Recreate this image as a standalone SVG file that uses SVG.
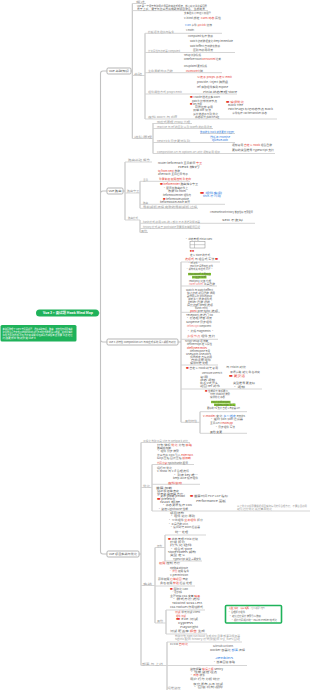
<svg xmlns="http://www.w3.org/2000/svg" width="310" height="691" viewBox="0 0 310 691">
<style>
.t{font-family:"Noto Sans CJK SC","Liberation Sans",sans-serif;font-size:2.2px;fill:#5a5a5a}
.g{fill:#999}
.r{fill:#e5392f}
.b{fill:#2e7be0}
.w{fill:#fff}
.ln{fill:none;stroke:#c2c2c2;stroke-width:1.1}
.ul{fill:none;stroke:#d0d0d0;stroke-width:0.9}
.bx{fill:#fff;stroke:#adadad;stroke-width:0.9}
.hl{fill:#86cf2b}
</style>
<rect width="310" height="691" fill="#fff"/>
<g id="connectors">
<path class="ln" d="M99 313H100.5M100.5 313V73.5Q100.5 71 103 71H107M100.5 313V193.5Q100.5 191 103 191H107M100.5 313V339.5Q100.5 342 103 342H107M100.5 313V551.5Q100.5 554 103 554H107"/>
<path class="ln" d="M131 71H132.3M132.3 3.5V138.5M145 33.3V119M153 123V153.5"/>
<path class="ln" d="M123 191H125M125 162V220M140 181.3V208.3M140 220V232.5"/>
<path class="ln" d="M178 342H181M181 262V422.3M200 411.7V433.3"/>
<path class="ln" d="M139 554H141M141 442.5V665.5M152 464.5V511M155 547.5V623M165 535V561M166 610V634M167 642V690"/>
</g>
<g id="root">
<rect x="36" y="309.5" width="63" height="7" rx="3.5" fill="#1fb25a"/>
<text class="t w" x="43" y="314.3" style="font-size:3.4px;font-weight:bold" textLength="50" lengthAdjust="spacingAndGlyphs">Vue 3 + 面试题 Hook Mind Map</text>
</g>
<g id="note">
<rect x="0.5" y="325" width="76" height="16.5" rx="1.5" fill="#1fb25a"/>
<text class="t w" x="2.5" y="330" textLength="70" lengthAdjust="spacingAndGlyphs">本脑图整理了 Vue 3 常见面试题，涵盖基础知识、路由、新特性与项目实战</text>
<text class="t w" x="2.5" y="332.8" textLength="70" lengthAdjust="spacingAndGlyphs">建议结合官方文档 Composition API 与 响应式原理 深入理解，并动手实践</text>
<text class="t w" x="2.5" y="335.6" textLength="70" lengthAdjust="spacingAndGlyphs">红色为重点内容 蓝色为补充说明 绿色高亮为高频考点 需要 重点 记忆</text>
<text class="t w" x="2.5" y="338.6" textLength="33" lengthAdjust="spacingAndGlyphs">持续更新中 欢迎补充 Vue 3</text>
</g>
<g id="n1">
<rect class="bx" x="107" y="68" width="24" height="6" rx="1.2"/>
<text class="t" x="109" y="71.8" fill="#333" style="font-size:2.5px" textLength="20" lengthAdjust="spacingAndGlyphs">Vue 基础知识</text>
</g>
<g id="n1a"><path class="ul" d="M132.3 3.5H146"/><text class="t g" x="136" y="2.6" textLength="9" lengthAdjust="spacingAndGlyphs">概述</text></g>
<g id="n1b"><path class="ul" d="M132.3 10.6H208"/>
<text class="t" x="137" y="6.5" textLength="70" lengthAdjust="spacingAndGlyphs">Vue 是一套用于构建用户界面的渐进式框架，核心库只关注视图层</text>
<text class="t" x="137" y="9.7" textLength="68" lengthAdjust="spacingAndGlyphs">易于上手，便于与第三方库或既有项目整合，生态完善</text></g>
<g id="n1c"><path class="ul" d="M132.3 75.5H145"/><text class="t g" x="134" y="75" textLength="8" lengthAdjust="spacingAndGlyphs">基础</text></g>
<g id="n1c1"><path class="ul" d="M145 33.3H222"/>
<text class="t g" x="148" y="32.6" textLength="26" lengthAdjust="spacingAndGlyphs">模板语法 插值与指令</text>
<text class="t" x="184" y="14.2" textLength="27" lengthAdjust="spacingAndGlyphs">文本插值 {{ msg }} 双括号</text>
<text class="t" x="184" y="19.2" textLength="37" lengthAdjust="spacingAndGlyphs">v-bind 绑定 <tspan class="r">:class 动态</tspan> 属性</text>
<text class="t" x="185" y="25.8" textLength="27" lengthAdjust="spacingAndGlyphs"><tspan class="b">v-on</tspan> 事件 <tspan class="r">@click</tspan> 修饰</text>
<text class="t" x="186" y="31" textLength="8" lengthAdjust="spacingAndGlyphs">v-model</text></g>
<g id="n1c2"><path class="ul" d="M145 52.5H235"/>
<text class="t g" x="148" y="51.8" textLength="32" lengthAdjust="spacingAndGlyphs">计算属性与侦听器 computed</text>
<text class="t" x="188" y="37" textLength="25" lengthAdjust="spacingAndGlyphs">computed 缓存 依赖</text>
<text class="t" x="190" y="42" textLength="43" lengthAdjust="spacingAndGlyphs">watch 侦听数据变化 deep immediate</text>
<text class="t" x="190" y="47" textLength="30" lengthAdjust="spacingAndGlyphs">watchEffect 自动收集依赖</text>
<text class="t" x="193" y="51.2" textLength="20" lengthAdjust="spacingAndGlyphs">区别与使用场景</text></g>
<g id="n1c3"><path class="ul" d="M145 72.7H222"/>
<text class="t g" x="148" y="72" textLength="25" lengthAdjust="spacingAndGlyphs">生命周期钩子函数</text>
<text class="t" x="184" y="56" textLength="17" lengthAdjust="spacingAndGlyphs">setup 创建阶段</text>
<text class="t" x="184" y="60" textLength="37" lengthAdjust="spacingAndGlyphs">onBeforeMount <tspan class="r">onMounted</tspan> 挂载</text>
<text class="t" x="184" y="66.5" textLength="23" lengthAdjust="spacingAndGlyphs">onUpdated 更新阶段</text>
<text class="t" x="186" y="71.5" textLength="17" lengthAdjust="spacingAndGlyphs"><tspan class="r">onUnmounted</tspan> 卸载</text></g>
<g id="n1c4"><path class="ul" d="M145 94H237"/>
<text class="t g" x="148" y="93.3" textLength="34" lengthAdjust="spacingAndGlyphs">组件通信方式 props emit</text>
<text class="t r" x="197" y="78" textLength="35" lengthAdjust="spacingAndGlyphs">父传子 props 子传父 emit</text>
<text class="t" x="197" y="82.6" textLength="31" lengthAdjust="spacingAndGlyphs">provide / inject 跨层级</text>
<text class="t" x="197" y="87.6" textLength="31" lengthAdjust="spacingAndGlyphs">ref 获取组件实例 expose</text>
<text class="t" x="203" y="93.3" textLength="34" lengthAdjust="spacingAndGlyphs">Pinia 状态管理 store</text></g>
<g id="n1c5"><path class="ul" d="M145 119H277"/>
<text class="t g" x="148" y="118.3" textLength="29" lengthAdjust="spacingAndGlyphs">虚拟 DOM 与 diff</text>
<text class="t" x="190" y="98" textLength="30" lengthAdjust="spacingAndGlyphs"><tspan class="r">■</tspan> VNode 描述真实 DOM</text>
<text class="t" x="192" y="101.5" textLength="25" lengthAdjust="spacingAndGlyphs">patch 比较新旧节点</text>
<text class="t" x="190" y="105" textLength="12" lengthAdjust="spacingAndGlyphs"><tspan class="r">■</tspan> key 作用</text>
<text class="t" x="195" y="108.2" textLength="18" lengthAdjust="spacingAndGlyphs">同层比较 复用</text>
<text class="t" x="193" y="111.4" textLength="18" lengthAdjust="spacingAndGlyphs">双端 diff 算法</text>
<text class="t" x="193" y="114.7" textLength="25" lengthAdjust="spacingAndGlyphs">最长递增子序列 优化</text>
<text class="t" x="195" y="118" textLength="24" lengthAdjust="spacingAndGlyphs">静态提升 patchFlag</text>
<text class="t" x="226" y="102.5" textLength="18" lengthAdjust="spacingAndGlyphs"><tspan class="r">■ 编译优化</tspan></text>
<text class="t" x="228" y="106" textLength="15" lengthAdjust="spacingAndGlyphs">Block Tree</text>
<text class="t" x="228" y="110" textLength="45" lengthAdjust="spacingAndGlyphs">PatchFlags 标记动态节点 Block</text>
<text class="t" x="232" y="113.6" textLength="35" lengthAdjust="spacingAndGlyphs">事件缓存 cacheHandler 静态</text></g>
<g id="n1d"><path class="ul" d="M132.3 138.5H153"/><text class="t g" x="134" y="138" textLength="18" lengthAdjust="spacingAndGlyphs">进阶原理</text></g>
<g id="n1d1"><path class="ul" d="M153 123.5H192"/><text class="t g" x="157" y="122.8" textLength="33" lengthAdjust="spacingAndGlyphs">响应式原理 Proxy 代理</text></g>
<g id="n1d2"><path class="ul" d="M153 128.5H213M200 133.5H235"/>
<text class="t g" x="157" y="127.8" textLength="55" lengthAdjust="spacingAndGlyphs">reactive 与 ref 的区别 以及 toRefs 的使用场景</text>
<text class="t b" x="200" y="132.8" textLength="34" lengthAdjust="spacingAndGlyphs">依赖收集 track 触发更新 trigger</text></g>
<g id="n1d3"><path class="ul" d="M153 142.5H235"/>
<text class="t g" x="157" y="141.8" textLength="33" lengthAdjust="spacingAndGlyphs">nextTick 异步更新队列</text>
<text class="t b" x="210" y="137.6" textLength="20" lengthAdjust="spacingAndGlyphs">微任务 Promise</text>
<text class="t b" x="212" y="140.8" textLength="16" lengthAdjust="spacingAndGlyphs">queueJob</text></g>
<g id="n1d4"><path class="ul" d="M153 153.5H275"/>
<text class="t g" x="157" y="152.8" textLength="63" lengthAdjust="spacingAndGlyphs">Composition API 与 Options API 对比 逻辑复用 组织</text>
<text class="t" x="232" y="146" textLength="40" lengthAdjust="spacingAndGlyphs">逻辑复用 <tspan class="r">自定义 Hook</tspan> 组合函数</text>
<text class="t" x="232" y="151" textLength="42" lengthAdjust="spacingAndGlyphs">更好的类型推导 TypeScript 支持</text></g>
<g id="n2">
<rect class="bx" x="107" y="188" width="16" height="6" rx="1.2"/>
<text class="t" x="108.5" y="191.8" fill="#333" style="font-size:2.5px" textLength="13" lengthAdjust="spacingAndGlyphs">Vue 路由</text>
</g>
<g id="n2a"><path class="ul" d="M125 162H152"/><text class="t g" x="128" y="161.3" textLength="22" lengthAdjust="spacingAndGlyphs">路由基础 概念</text></g>
<g id="n2b"><path class="ul" d="M125 193H140"/><text class="t g" x="127" y="192.4" textLength="12" lengthAdjust="spacingAndGlyphs">路由守卫</text></g>
<g id="n2b1"><path class="ul" d="M140 181.3H190"/>
<text class="t g" x="143" y="180.6" textLength="5" lengthAdjust="spacingAndGlyphs">全局</text>
<text class="t" x="158" y="164" textLength="44" lengthAdjust="spacingAndGlyphs">router.beforeEach 全局前置 <tspan class="r">守卫</tspan></text>
<text class="t" x="178" y="167.5" textLength="22" lengthAdjust="spacingAndGlyphs">next 放行</text>
<text class="t" x="158" y="172" textLength="22" lengthAdjust="spacingAndGlyphs"><tspan class="r">to from next</tspan> 参数</text>
<text class="t" x="158" y="175.3" textLength="30" lengthAdjust="spacingAndGlyphs">afterEach 全局后置钩子</text>
<text class="t r" x="159" y="180.4" textLength="32" lengthAdjust="spacingAndGlyphs">登录鉴权 权限控制 重定向</text></g>
<g id="n2b2"><path class="ul" d="M140 204.3H225"/>
<text class="t g" x="143" y="203.6" textLength="5" lengthAdjust="spacingAndGlyphs">路由</text>
<text class="t" x="160" y="185" textLength="38" lengthAdjust="spacingAndGlyphs"><tspan class="r">■ beforeEnter</tspan> 路由独享守卫</text>
<text class="t" x="163" y="189" textLength="25" lengthAdjust="spacingAndGlyphs">· 配置在路由对象上</text>
<text class="t" x="168" y="192.2" textLength="18" lengthAdjust="spacingAndGlyphs">参数 to from</text>
<text class="t" x="163" y="196" textLength="28" lengthAdjust="spacingAndGlyphs">beforeRouteEnter 组件内</text>
<text class="t" x="163" y="199.8" textLength="26" lengthAdjust="spacingAndGlyphs"><tspan class="r">■</tspan> beforeRouteUpdate</text>
<text class="t" x="160" y="203.4" textLength="30" lengthAdjust="spacingAndGlyphs">beforeRouteLeave 离开</text>
<text class="t b" x="200" y="193.5" textLength="22" lengthAdjust="spacingAndGlyphs"><tspan class="r">■</tspan> 组件实例</text>
<text class="t b" x="203" y="197" textLength="18" lengthAdjust="spacingAndGlyphs">this 不可用</text></g>
<g id="n2b3"><path class="ul" d="M140 208.3H198"/><text class="t g" x="143" y="207.5" textLength="54" lengthAdjust="spacingAndGlyphs">导航解析流程 完整的导航解析 过程</text></g>
<g id="n2c"><path class="ul" d="M125 220H140"/><text class="t g" x="128" y="219.4" textLength="10" lengthAdjust="spacingAndGlyphs">路由模式</text></g>
<g id="n2c1"><path class="ul" d="M140 223.3H255"/>
<text class="t g" x="143" y="222.6" textLength="57" lengthAdjust="spacingAndGlyphs">hash 模式 使用 URL 的 # 部分 不会发送到服务器</text>
<text class="t" x="210" y="212.6" textLength="43" lengthAdjust="spacingAndGlyphs">createWebHashHistory 兼容性好 无需配置</text>
<text class="t" x="222" y="220.6" textLength="21" lengthAdjust="spacingAndGlyphs">SEO 不友好</text></g>
<g id="n2c2"><path class="ul" d="M140 228.5H200"/><text class="t g" x="143" y="227.6" textLength="57" lengthAdjust="spacingAndGlyphs">history 模式 基于 pushState 需要服务端配置回退</text></g>
<g id="n2c3"><path class="ul" d="M140 232.5H148"/><text class="t g" x="141" y="231.8" textLength="6" lengthAdjust="spacingAndGlyphs">其他</text></g>
<g id="n3">
<rect class="bx" x="107" y="339" width="71" height="6" rx="1.2"/>
<text class="t" x="109" y="342.8" fill="#333" style="font-size:2.5px" textLength="67" lengthAdjust="spacingAndGlyphs">Vue 3 新特性 Composition API 与响应式系统 深入解析与对比</text>
</g>
<g id="n3a"><path class="ul" d="M181 262H220"/>
<text class="t" x="185" y="240" textLength="27" lengthAdjust="spacingAndGlyphs">· 状态管理 Pinia Vuex</text>
<rect x="190" y="241.5" width="15" height="6.5" fill="none" stroke="#888" stroke-width="0.5"/>
<path d="M194.5 241.5V248M190 244.7H205" stroke="#888" stroke-width="0.4"/>
<text class="t r" x="190" y="252" textLength="4" lengthAdjust="spacingAndGlyphs">■ ■</text>
<text class="t" x="190" y="256" textLength="20" lengthAdjust="spacingAndGlyphs">定义 store 的方式</text>
<text class="t" x="185" y="260.3" textLength="33" lengthAdjust="spacingAndGlyphs"><tspan class="r">选项式</tspan> 与 组合式 写法 <tspan class="r">■</tspan></text></g>
<g id="n3b"><path class="ul" d="M181 286H217"/>
<text class="t" x="188" y="264" textLength="12" lengthAdjust="spacingAndGlyphs">· ref 对象 ·</text>
<text class="t" x="190" y="266.8" textLength="23" lengthAdjust="spacingAndGlyphs">reactive 深层响应 对象</text>
<text class="t" x="186" y="269.6" textLength="27" lengthAdjust="spacingAndGlyphs">· 解构丢失 响应式 问题 ·</text>
<rect class="hl" x="188" y="272.9" width="23" height="2.4"/>
<text class="t" x="188.5" y="274.8" textLength="22" lengthAdjust="spacingAndGlyphs">shallowRef 浅层响应</text>
<rect class="hl" x="192" y="276.1" width="14.5" height="2.4"/>
<text class="t" x="192.5" y="278" textLength="13.5" lengthAdjust="spacingAndGlyphs">triggerRef</text>
<text class="t" x="189" y="282" textLength="22" lengthAdjust="spacingAndGlyphs">readonly 只读 代理</text>
<text class="t" x="189" y="285.4" textLength="26" lengthAdjust="spacingAndGlyphs"><tspan fill="#e77">isRef unref</tspan> 工具函数</text></g>
<g id="n3c"><path class="ul" d="M181 312.3H220"/>
<text class="t" x="186" y="291" textLength="27" lengthAdjust="spacingAndGlyphs">watch 与 watchEffect</text>
<text class="t" x="187" y="294" textLength="28" lengthAdjust="spacingAndGlyphs">停止侦听 返回函数 调用</text>
<text class="t" x="187" y="297" textLength="25" lengthAdjust="spacingAndGlyphs">副作用清除 onCleanup</text>
<text class="t" x="188" y="300.2" textLength="24" lengthAdjust="spacingAndGlyphs">侦听多个源 数组形式</text>
<text class="t" x="188" y="303.2" textLength="22" lengthAdjust="spacingAndGlyphs">getter 函数 侦听</text>
<text class="t" x="187" y="306.2" textLength="26" lengthAdjust="spacingAndGlyphs">深度侦听 deep 选项</text>
<text class="t" x="195" y="309" textLength="13" lengthAdjust="spacingAndGlyphs">flush 时机</text>
<text class="t" x="190" y="311.8" textLength="28" lengthAdjust="spacingAndGlyphs"><tspan class="r">post</tspan> pre sync 选项</text></g>
<g id="n3d"><path class="ul" d="M181 339.3H218"/>
<text class="t" x="186" y="316" textLength="27" lengthAdjust="spacingAndGlyphs">Teleport 传送门 to</text>
<text class="t" x="186" y="319.3" textLength="26" lengthAdjust="spacingAndGlyphs">· 模态框 弹窗 场景</text>
<text class="t" x="186" y="322.5" textLength="26" lengthAdjust="spacingAndGlyphs">Suspense 异步组件</text>
<text class="t" x="187" y="327" textLength="24" lengthAdjust="spacingAndGlyphs"><tspan fill="#e77">defineAsync</tspan>Component</text>
<text class="t" x="187" y="331.7" textLength="27" lengthAdjust="spacingAndGlyphs">· 片段 Fragments ·</text>
<text class="t" x="187" y="336.6" textLength="28" lengthAdjust="spacingAndGlyphs"><tspan fill="#e77">多根节点</tspan> 组件 支持</text></g>
<g id="n3e"><path class="ul" d="M181 365H218"/>
<text class="t" x="185" y="342" textLength="23" lengthAdjust="spacingAndGlyphs">script setup 语法糖</text>
<text class="t" x="187" y="345.3" textLength="25" lengthAdjust="spacingAndGlyphs">defineProps 定义属性</text>
<text class="t r" x="187" y="349.3" textLength="20" lengthAdjust="spacingAndGlyphs">defineEmits</text>
<text class="t" x="190" y="352.2" textLength="20" lengthAdjust="spacingAndGlyphs">defineExpose 暴露</text>
<text class="t" x="186" y="355.3" textLength="25" lengthAdjust="spacingAndGlyphs">useSlots useAttrs</text>
<text class="t" x="190" y="358.3" textLength="22" lengthAdjust="spacingAndGlyphs">顶层绑定 直接使用</text>
<text class="t" x="191" y="361.4" textLength="20" lengthAdjust="spacingAndGlyphs">自动注册 组件</text>
<text class="t" x="190" y="364.4" textLength="18" lengthAdjust="spacingAndGlyphs">编译时宏 处理</text></g>
<g id="n3f"><path class="ul" d="M181 389H262"/>
<text class="t" x="186" y="369.3" textLength="32" lengthAdjust="spacingAndGlyphs"><tspan class="r">■</tspan> 自定义 Hook 封装 复用</text>
<text class="t" x="202" y="374.3" textLength="20" lengthAdjust="spacingAndGlyphs">useMouse useFetch</text>
<text class="t" x="200" y="377.5" textLength="8" lengthAdjust="spacingAndGlyphs">复用</text>
<text class="t" x="200" y="380.5" textLength="15" lengthAdjust="spacingAndGlyphs">状态 逻辑</text>
<text class="t" x="200" y="383.5" textLength="18" lengthAdjust="spacingAndGlyphs">命名 use 开头</text>
<text class="t" x="200" y="386.7" textLength="20" lengthAdjust="spacingAndGlyphs">返回 ref 对象</text>
<text class="t" x="226" y="368.3" textLength="20" lengthAdjust="spacingAndGlyphs">与 Mixin 对比</text>
<text class="t" x="230" y="373.3" textLength="30" lengthAdjust="spacingAndGlyphs">来源清晰 避免 命名冲突</text>
<text class="t" x="229" y="377" textLength="16" lengthAdjust="spacingAndGlyphs"><tspan class="r">■ 更灵活</tspan></text>
<text class="t" x="233" y="383.7" textLength="22" lengthAdjust="spacingAndGlyphs">类型推导 更友好</text>
<text class="t" x="233" y="387.6" textLength="12" lengthAdjust="spacingAndGlyphs">· 逻辑</text></g>
<g id="n3g"><path class="ul" d="M181 422.3H200"/><text class="t g" x="185" y="421.7" textLength="12" lengthAdjust="spacingAndGlyphs">其他特性</text></g>
<g id="n3g1"><path class="ul" d="M200 411.7H247"/>
<text class="t" x="205" y="392" textLength="23" lengthAdjust="spacingAndGlyphs"><tspan class="r">■</tspan> 性能提升 体积更小</text>
<text class="t" x="210" y="395" textLength="20" lengthAdjust="spacingAndGlyphs">Tree-shaking 按需</text>
<text class="t" x="210" y="398.2" textLength="15" lengthAdjust="spacingAndGlyphs">编译优化 静态</text>
<rect class="hl" x="211" y="400.8" width="19.5" height="2.4"/>
<text class="t" x="211.5" y="402.7" textLength="18.5" lengthAdjust="spacingAndGlyphs">Proxy 代替 defineProperty</text>
<rect class="hl" x="214" y="403.6" width="21.5" height="2.4"/>
<text class="t" x="214.5" y="405.5" textLength="20.5" lengthAdjust="spacingAndGlyphs">TypeScript 重写</text>
<text class="t" x="207" y="409.2" textLength="33" lengthAdjust="spacingAndGlyphs">更好的 TS 支持 自定义渲染器 API</text></g>
<g id="n3g2"><path class="ul" d="M200 433.3H247"/>
<text class="t" x="203" y="416.7" textLength="42" lengthAdjust="spacingAndGlyphs"><tspan class="r">v-model</tspan> 变化 <tspan class="b">多个绑定</tspan> emits</text>
<text class="t" x="210" y="420.3" textLength="33" lengthAdjust="spacingAndGlyphs">· 移除 $on $off 过滤器</text>
<text class="t" x="210" y="424.3" textLength="23" lengthAdjust="spacingAndGlyphs">全局 API <tspan class="r">createApp</tspan></text>
<text class="t" x="215" y="428.3" textLength="20" lengthAdjust="spacingAndGlyphs">· 异步组件 写法</text>
<text class="t" x="210" y="432.5" textLength="12" lengthAdjust="spacingAndGlyphs">其他 变更</text></g>
<g id="n4">
<rect class="bx" x="107" y="551" width="32" height="6" rx="1.2"/>
<text class="t" x="109" y="554.8" fill="#333" style="font-size:2.5px" textLength="28" lengthAdjust="spacingAndGlyphs">Vue 项目实战与优化</text>
</g>
<g id="n4a"><path class="ul" d="M141 442.5H190"/><text class="t g" x="143" y="441.6" textLength="45" lengthAdjust="spacingAndGlyphs">工程化 构建工具 Vite 与 Webpack 对比</text></g>
<g id="n4b"><path class="ul" d="M141 487.5H152"/><text class="t g" x="143" y="486.8" textLength="7" lengthAdjust="spacingAndGlyphs">优化</text></g>
<g id="n4b1"><path class="ul" d="M152 464.5H194"/>
<text class="t" x="157" y="445.5" textLength="35" lengthAdjust="spacingAndGlyphs">打包 体积 <tspan class="r">优化</tspan> 分包 <tspan class="r">策略</tspan></text>
<text class="t" x="157" y="449" textLength="14" lengthAdjust="spacingAndGlyphs">路由懒加载</text>
<text class="t" x="157" y="452.4" textLength="22" lengthAdjust="spacingAndGlyphs">· 组件 异步 按需</text>
<text class="t" x="157" y="455.6" textLength="36" lengthAdjust="spacingAndGlyphs">第三方库 CDN 引入 <tspan class="r">externals</tspan></text>
<text class="t" x="157" y="458.8" textLength="34" lengthAdjust="spacingAndGlyphs">Gzip 压缩 图片压缩 <tspan class="r">懒加载</tspan></text>
<text class="t" x="157" y="463.8" textLength="31" lengthAdjust="spacingAndGlyphs"><tspan class="r">代码分割</tspan> splitChunks 配置</text></g>
<g id="n4b2"><path class="ul" d="M152 484.3H200"/>
<text class="t" x="157" y="468.5" textLength="15" lengthAdjust="spacingAndGlyphs">运行时 优化</text>
<text class="t" x="157" y="472.2" textLength="32" lengthAdjust="spacingAndGlyphs">v-show 与 v-if 合理选择</text>
<text class="t" x="173" y="475.5" textLength="25" lengthAdjust="spacingAndGlyphs">· 列表 key 唯一</text>
<text class="t" x="173" y="479" textLength="25" lengthAdjust="spacingAndGlyphs">keep-alive 缓存组件</text>
<text class="t r" x="168" y="483.5" textLength="14" lengthAdjust="spacingAndGlyphs">虚拟滚动</text></g>
<g id="n4b3"><path class="ul" d="M152 511H310"/>
<text class="t" x="156" y="488.5" textLength="16" lengthAdjust="spacingAndGlyphs">首屏 加载</text>
<text class="t" x="157" y="491.5" textLength="22" lengthAdjust="spacingAndGlyphs">SSR 服务端渲染</text>
<text class="t" x="157" y="494.5" textLength="26" lengthAdjust="spacingAndGlyphs">预渲染 骨架屏 方案</text>
<text class="t" x="157" y="497.4" textLength="28" lengthAdjust="spacingAndGlyphs">· 资源 预加载 preload</text>
<text class="t" x="157" y="500.3" textLength="18" lengthAdjust="spacingAndGlyphs"><tspan class="r">■</tspan> prefetch</text>
<text class="t" x="160" y="503.2" textLength="20" lengthAdjust="spacingAndGlyphs">Nuxt 框架</text>
<text class="t" x="162" y="506.2" textLength="30" lengthAdjust="spacingAndGlyphs">· 静态资源 缓存 CDN</text>
<text class="t" x="158" y="509.8" textLength="30" lengthAdjust="spacingAndGlyphs">· 监控 Lighthouse 性能</text>
<text class="t" x="190" y="496.6" textLength="38" lengthAdjust="spacingAndGlyphs"><tspan class="r">■</tspan> 首屏时间 FCP LCP 指标</text>
<text class="t" x="196" y="501.6" textLength="30" lengthAdjust="spacingAndGlyphs">Performance 面板</text>
<text class="t g" x="237" y="507" textLength="70" lengthAdjust="spacingAndGlyphs">以上优化手段需要根据项目实际情况选择合理方案，不要盲目使用</text>
<text class="t g" x="237" y="510.2" textLength="35" lengthAdjust="spacingAndGlyphs">避免过度优化 先度量再优化</text></g>
<g id="n4c"><path class="ul" d="M141 585.5H155"/><text class="t g" x="143" y="584.6" textLength="9" lengthAdjust="spacingAndGlyphs">实战</text></g>
<g id="n4c1"><path class="ul" d="M155 547.5H165"/><text class="t g" x="157" y="546.6" textLength="5" lengthAdjust="spacingAndGlyphs">架构</text></g>
<g id="n4c1a"><path class="ul" d="M165 535H206"/>
<text class="t" x="170" y="514" textLength="14" lengthAdjust="spacingAndGlyphs">项目结构</text>
<text class="t" x="170" y="517.2" textLength="25" lengthAdjust="spacingAndGlyphs">· 组件 划分 原则</text>
<text class="t" x="168" y="520.8" textLength="35" lengthAdjust="spacingAndGlyphs">· 公共组件 <tspan class="r">业务组件</tspan> 拆分</text>
<text class="t" x="168" y="525" textLength="20" lengthAdjust="spacingAndGlyphs">· 工具函数 utils</text>
<text class="t" x="170" y="528.2" textLength="30" lengthAdjust="spacingAndGlyphs">· 接口封装 axios 拦截器</text>
<text class="t" x="175" y="533" textLength="13" lengthAdjust="spacingAndGlyphs">统一 处理</text></g>
<g id="n4c1b"><path class="ul" d="M165 561H202"/>
<text class="t" x="168" y="539.5" textLength="30" lengthAdjust="spacingAndGlyphs"><tspan class="r">■</tspan> 状态 管理 Pinia 模块</text>
<text class="t" x="170" y="542.8" textLength="15" lengthAdjust="spacingAndGlyphs">模块 拆分</text>
<text class="t" x="170" y="546.4" textLength="22" lengthAdjust="spacingAndGlyphs">持久化 插件</text>
<text class="t" x="170" y="550" textLength="22" lengthAdjust="spacingAndGlyphs">· 组合式 store</text>
<text class="t" x="168" y="553.3" textLength="28" lengthAdjust="spacingAndGlyphs">storeToRefs 解构</text>
<text class="t" x="170" y="556.4" textLength="15" lengthAdjust="spacingAndGlyphs">类型 定义</text>
<text class="t" x="173" y="559.7" textLength="28" lengthAdjust="spacingAndGlyphs">TypeScript 类型 声明文件</text></g>
<g id="n4c2"><path class="ul" d="M155 586H195"/>
<text class="t" x="159" y="564" textLength="21" lengthAdjust="spacingAndGlyphs"><tspan class="r">权限</tspan> 控制 方案</text>
<text class="t" x="170" y="569.3" textLength="18" lengthAdjust="spacingAndGlyphs">动态路由 addRoute</text>
<text class="t" x="169" y="572.4" textLength="20" lengthAdjust="spacingAndGlyphs"><tspan fill="#e77">· 按钮</tspan> 权限 指令</text>
<text class="t" x="170" y="575.5" textLength="18" lengthAdjust="spacingAndGlyphs">v-permission</text>
<text class="t" x="158" y="580" textLength="30" lengthAdjust="spacingAndGlyphs">菜单权限 <tspan class="r">后端返回</tspan> 渲染</text>
<text class="t" x="160" y="583.6" textLength="32" lengthAdjust="spacingAndGlyphs">角色 权限 <tspan class="r">校验</tspan> 拦截 处理</text></g>
<g id="n4c3"><path class="ul" d="M155 623H166"/><text class="t g" x="157" y="622.3" textLength="6" lengthAdjust="spacingAndGlyphs">其他</text></g>
<g id="n4c3a"><path class="ul" d="M166 610H205"/>
<text class="t" x="170" y="589.6" textLength="18" lengthAdjust="spacingAndGlyphs"><tspan class="r">■</tspan> 国际化 i18n</text>
<text class="t" x="172" y="592.8" textLength="10" lengthAdjust="spacingAndGlyphs">· 语言切换</text>
<text class="t" x="170" y="596.6" textLength="30" lengthAdjust="spacingAndGlyphs">主题切换 CSS 变量 <tspan class="r">暗黑</tspan></text>
<text class="t" x="172" y="600.2" textLength="28" lengthAdjust="spacingAndGlyphs">· 样式方案 选择</text>
<text class="t" x="172" y="604.2" textLength="30" lengthAdjust="spacingAndGlyphs">Tailwind SCSS Less</text>
<text class="t" x="170" y="608.4" textLength="33" lengthAdjust="spacingAndGlyphs">CSS Modules 作用域样式</text></g>
<g id="n4c3b"><path class="ul" d="M166 634H207"/>
<text class="t" x="175" y="613" textLength="25" lengthAdjust="spacingAndGlyphs"><tspan class="r">测试</tspan> 单元测试 Vitest</text>
<text class="t r" x="176" y="616.6" textLength="10" lengthAdjust="spacingAndGlyphs">组件 测试</text>
<text class="t" x="176" y="620.2" textLength="22" lengthAdjust="spacingAndGlyphs"><tspan class="r">■</tspan> E2E 测试</text>
<text class="t" x="178" y="624.2" textLength="15" lengthAdjust="spacingAndGlyphs">Cypress</text>
<text class="t" x="180" y="627.6" textLength="18" lengthAdjust="spacingAndGlyphs">Playwright</text>
<text class="t" x="170" y="632.4" textLength="35" lengthAdjust="spacingAndGlyphs">测试 覆盖率 <tspan class="r">报告</tspan> 生成</text></g>
<g id="tip">
<rect x="225.5" y="605.5" width="56" height="17.5" rx="1" fill="#fff" stroke="#1fb25a" stroke-width="1.6"/>
<text class="t" x="229" y="609" textLength="36" lengthAdjust="spacingAndGlyphs"><tspan class="r">注意 事项</tspan>       <tspan class="g">小提示</tspan></text>
<text class="t" x="228" y="612.8" textLength="17" lengthAdjust="spacingAndGlyphs">· 合理拆分组件</text>
<text class="t" x="229" y="617.2" textLength="32" lengthAdjust="spacingAndGlyphs">· 避免过度设计 按需引入依赖</text>
<text class="t" x="231" y="621.3" textLength="46" lengthAdjust="spacingAndGlyphs">· 保持代码规范统一 ESLint Prettier 格式化</text>
</g>
<g id="n4d"><path class="ul" d="M141 665.5H167"/><text class="t g" x="142" y="664.8" textLength="21" lengthAdjust="spacingAndGlyphs">部署 与 上线</text></g>
<g id="n4d1"><path class="ul" d="M167 642H242"/>
<text class="t g" x="175" y="636.6" textLength="65" lengthAdjust="spacingAndGlyphs">构建打包 npm run build 生成 dist 目录 部署到服务器</text>
<text class="t g" x="175" y="639.8" textLength="65" lengthAdjust="spacingAndGlyphs">Nginx 配置 history 模式需配置 try_files 回退</text></g>
<g id="n4d2"><path class="ul" d="M167 665.5H247"/>
<text class="t" x="170" y="644.6" textLength="18" lengthAdjust="spacingAndGlyphs">CI/CD <tspan class="r">自动化</tspan></text>
<text class="t" x="213" y="647" textLength="20" lengthAdjust="spacingAndGlyphs">GitHub Actions</text>
<text class="t" x="210" y="651" textLength="35" lengthAdjust="spacingAndGlyphs">Docker 容器化 <tspan class="b">部署</tspan> 流程</text>
<text class="t b" x="215" y="658.6" textLength="18" lengthAdjust="spacingAndGlyphs">Jenkins</text>
<text class="t" x="213" y="663" textLength="22" lengthAdjust="spacingAndGlyphs">· 版本回滚 策略</text></g>
<g id="n4d3">
<text class="t" x="190" y="669.5" textLength="33" lengthAdjust="spacingAndGlyphs">监控报警 <tspan class="r">错误上报</tspan> Sentry</text>
<text class="t" x="190" y="672.7" textLength="27" lengthAdjust="spacingAndGlyphs">· 性能 监控 埋点</text>
<text class="t" x="190" y="676.4" textLength="15" lengthAdjust="spacingAndGlyphs"><tspan class="r">· 日志</tspan> 收集</text>
<text class="t" x="190" y="680" textLength="30" lengthAdjust="spacingAndGlyphs">用户 行为 分析 统计</text>
<text class="t" x="193" y="684.6" textLength="30" lengthAdjust="spacingAndGlyphs">灰度发布 A/B 测试</text>
<text class="t" x="193" y="688.2" textLength="30" lengthAdjust="spacingAndGlyphs">· 回滚 机制 保障</text>
<text class="t g" x="167.5" y="689.4" textLength="13" lengthAdjust="spacingAndGlyphs">运维监控</text>
</g>
</svg>
